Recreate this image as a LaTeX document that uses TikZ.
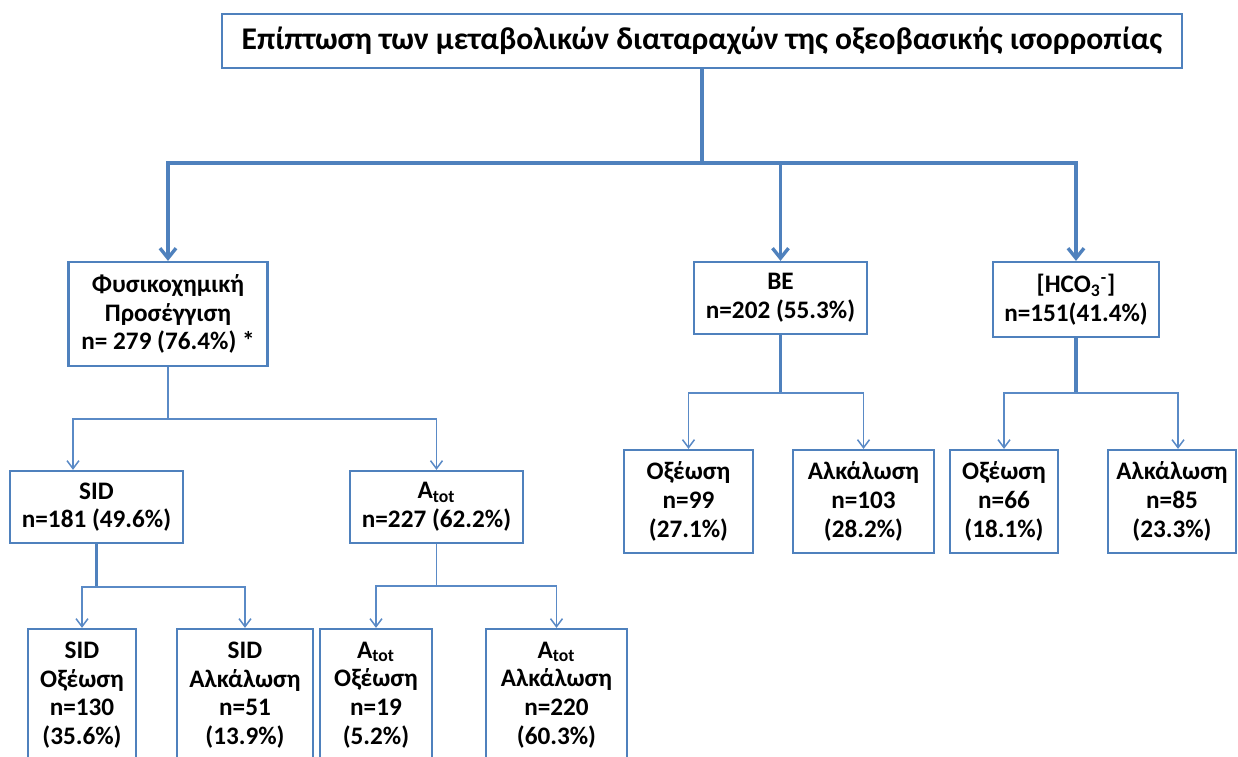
\documentclass[tikz,border=0pt]{standalone}
\usepackage{fontspec}
\setmainfont{Carlito}
\usetikzlibrary{arrows.meta}
\definecolor{boxblue}{HTML}{4F81BD}
\definecolor{linkblue}{HTML}{5A8AC6}

\begin{document}
\begin{tikzpicture}[x=0.5pt,y=-0.5pt,
		box/.style={draw=boxblue,line width=1.1pt,fill=white,align=center,inner sep=0pt,
			font=\fontsize{12.6}{14.3}\selectfont\bfseries},
		main link/.style={draw=boxblue,line width=1.7pt},
		main arrow/.style={main link,-{Straight Barb[length=5pt,width=8pt]}},
		sub link/.style={draw=linkblue,line width=0.75pt},
		sub arrow/.style={sub link,-{Straight Barb[length=4pt,width=6pt]}}]
		\useasboundingbox (0,0) rectangle (1238,756);
		\clip (0,0) rectangle (1238,756);

		% top
		\node[box,minimum width=480pt,minimum height=27pt,font=\fontsize{15.8}{18}\selectfont\bfseries] (title) at (702,41)
			{Επίπτωση των μεταβολικών διαταραχών της οξεοβασικής ισορροπίας};

		% second row
		\node[box,minimum width=99.5pt,minimum height=52pt] (phys) at (168,314)
			{Φυσικοχημική\\Προσέγγιση\\n= 279 (76.4\%) *};
		\node[box,minimum width=86.5pt,minimum height=36pt] (be) at (780.5,298)
			{BE\\n=202 (55.3\%)};
		\node[box,minimum width=83pt,minimum height=37.5pt] (hco) at (1076,299.5)
			{[HCO\textsubscript{3}\textsuperscript{-}]\\n=151(41.4\%)};

		% third row
		\node[box,minimum width=86.5pt,minimum height=36pt] (sid) at (96.5,507)
			{SID\\n=181 (49.6\%)};
		\node[box,minimum width=86.5pt,minimum height=36pt] (atot) at (436.5,507)
			{A\textsubscript{tot}\\n=227 (62.2\%)};
		\node[box,minimum width=64.5pt,minimum height=51.5pt] (beac) at (688.5,501.5)
			{Οξέωση\\n=99\\(27.1\%)};
		\node[box,minimum width=70.5pt,minimum height=51.5pt] (beal) at (863.5,501.5)
			{Αλκάλωση\\n=103\\(28.2\%)};
		\node[box,minimum width=54pt,minimum height=51.5pt] (hcac) at (1004,501.5)
			{Οξέωση\\n=66\\(18.1\%)};
		\node[box,minimum width=64pt,minimum height=51.5pt] (hcal) at (1172,501.5)
			{Αλκάλωση\\n=85\\(23.3\%)};

		% bottom row (cut by the frame)
		\node[box,minimum width=54pt,minimum height=66pt] (sidac) at (82,695)
			{SID\\Οξέωση\\n=130\\(35.6\%)};
		\node[box,minimum width=68pt,minimum height=66pt] (sidal) at (245,695)
			{SID\\Αλκάλωση\\n=51\\(13.9\%)};
		\node[box,minimum width=56pt,minimum height=66pt] (atac) at (376,695)
			{A\textsubscript{tot}\\Οξέωση\\n=19\\(5.2\%)};
		\node[box,minimum width=70.5pt,minimum height=66pt] (atal) at (556.5,695)
			{A\textsubscript{tot}\\Αλκάλωση\\n=220\\(60.3\%)};

		% links
		\coordinate (topsplit) at (704,163);
		\draw[main link] (title.south) -- (title.south |- topsplit);
		\draw[main arrow] (title.south |- topsplit) -| (phys.north);
		\draw[main arrow] (title.south |- topsplit) -| (be.north);
		\draw[main arrow] (title.south |- topsplit) -| (hco.north);

		\coordinate (physsplit) at (168,419);
		\draw[sub link] (phys.south) -- (phys.south |- physsplit);
		\draw[sub arrow] (phys.south |- physsplit) -| ([xshift=-11.75pt]sid.north);
		\draw[sub arrow] (phys.south |- physsplit) -| (atot.north);

		\coordinate (sidsplit) at (97,587);
		\draw[main link] (sid.south) -- (sid.south |- sidsplit);
		\draw[sub arrow] (sid.south |- sidsplit) -| (sidac.north);
		\draw[sub arrow] (sid.south |- sidsplit) -| (sidal.north);

		\coordinate (atotsplit) at (437,586);
		\draw[sub link] (atot.south) -- (atot.south |- atotsplit);
		\draw[sub arrow] (atot.south |- atotsplit) -| (atac.north);
		\draw[sub arrow] (atot.south |- atotsplit) -| (atal.north);

		\coordinate (besplit) at (781,393);
		\draw[main link] (be.south) -- (be.south |- besplit);
		\draw[sub arrow] (be.south |- besplit) -| (beac.north);
		\draw[sub arrow] (be.south |- besplit) -| (beal.north);

		\coordinate (hcosplit) at (1077,393);
		\draw[main link] (hco.south) -- (hco.south |- hcosplit);
		\draw[sub arrow] (hco.south |- hcosplit) -| (hcac.north);
		\draw[sub arrow] (hco.south |- hcosplit) -| ([xshift=3pt]hcal.north);
\end{tikzpicture}
\end{document}
